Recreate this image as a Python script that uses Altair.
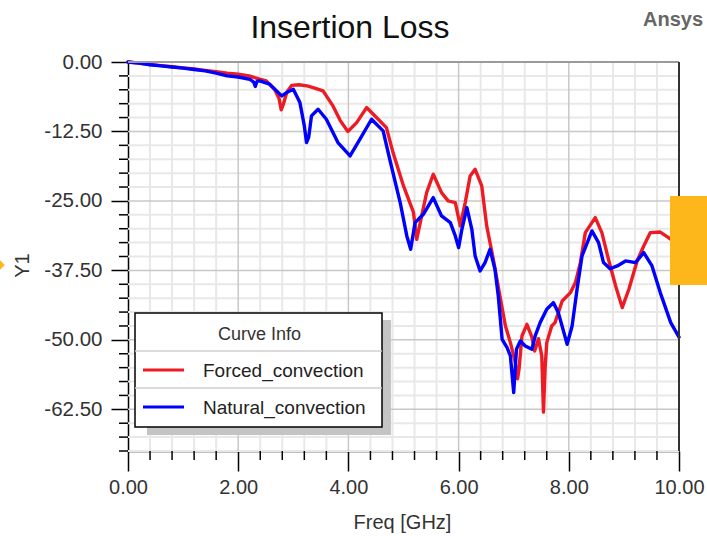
import altair as alt
import pandas as pd

# ---- series data: frequency [GHz] and insertion loss [dB] ----
SERIES = ["Forced_convection", "Natural_convection"]
COLORS = ["#ED1C24", "#0000FF"]

FREQ_FORCED = [0.0, 0.2, 0.4, 0.6, 0.8, 1.0, 1.2, 1.4, 1.6, 1.8, 2.0, 2.2, 2.39, 2.51,
               2.66, 2.74, 2.78, 2.82, 2.88, 2.97, 3.1, 3.25, 3.36, 3.54, 3.72, 3.85,
               3.99, 4.15, 4.33, 4.51, 4.69, 4.81, 5.0, 5.18, 5.24, 5.33, 5.42, 5.54,
               5.69, 5.81, 5.94, 6.03, 6.12, 6.21, 6.3, 6.42, 6.51, 6.63, 6.75, 6.85,
               6.94, 7.03, 7.07, 7.1, 7.15, 7.24, 7.33, 7.38, 7.45, 7.51, 7.54, 7.57,
               7.6, 7.69, 7.75, 7.88, 8.03, 8.12, 8.21, 8.3, 8.48, 8.6, 8.72, 8.85,
               8.97, 9.09, 9.24, 9.36, 9.48, 9.66, 9.81, 10.0]
LOSS_FORCED = [0.0, -0.2, -0.45, -0.65, -0.85, -1.05, -1.25, -1.5, -1.75, -2.0, -2.2, -2.5,
               -3.1, -3.4, -4.9, -6.5, -8.6, -7.6, -5.5, -4.2, -4.1, -4.3, -4.6, -5.2,
               -7.9, -10.5, -12.5, -10.9, -8.2, -10.0, -11.8, -16.3, -22.3, -27.0, -31.9,
               -27.7, -23.5, -20.2, -23.5, -25.0, -25.3, -29.5, -25.3, -20.5, -19.3,
               -22.3, -29.5, -35.5, -42.1, -47.5, -50.5, -54.1, -57.0, -55.0, -49.3,
               -47.2, -49.5, -52.0, -49.8, -52.9, -63.0, -55.0, -50.5, -47.5, -46.9,
               -43.0, -41.5, -39.7, -36.1, -30.7, -28.0, -30.7, -35.5, -40.3, -44.2,
               -40.9, -35.8, -33.1, -30.7, -30.6, -31.6, -33.0]

FREQ_NATURAL = [0.0, 0.2, 0.4, 0.6, 0.8, 1.0, 1.2, 1.4, 1.6, 1.8, 2.0, 2.21, 2.28, 2.31,
                2.34, 2.39, 2.57, 2.79, 2.88, 3.0, 3.12, 3.2, 3.24, 3.28, 3.33, 3.45,
                3.6, 3.81, 4.03, 4.21, 4.42, 4.63, 4.75, 4.94, 5.06, 5.13, 5.21, 5.36,
                5.54, 5.69, 5.85, 5.94, 6.0, 6.06, 6.15, 6.24, 6.3, 6.39, 6.48, 6.57,
                6.66, 6.72, 6.79, 6.88, 6.94, 7.0, 7.05, 7.12, 7.21, 7.33, 7.39, 7.48,
                7.6, 7.72, 7.81, 7.97, 8.06, 8.15, 8.24, 8.42, 8.54, 8.63, 8.75, 8.88,
                9.03, 9.21, 9.36, 9.51, 9.66, 9.85, 10.0]
LOSS_NATURAL = [0.0, -0.2, -0.5, -0.7, -0.9, -1.1, -1.35, -1.6, -2.0, -2.5, -2.7, -3.1,
                -3.6, -4.4, -3.5, -3.4, -4.0, -6.1, -5.5, -4.9, -7.3, -11.5, -14.5,
                -13.5, -9.7, -8.5, -10.3, -14.5, -16.9, -13.9, -10.3, -12.4, -17.5,
                -25.3, -31.3, -33.7, -28.9, -27.4, -24.4, -27.7, -28.9, -31.3, -33.4,
                -30.1, -26.2, -30.1, -34.9, -37.6, -36.1, -33.7, -37.3, -42.1, -49.9,
                -51.4, -52.9, -59.5, -51.7, -50.2, -51.1, -51.7, -49.3, -46.9, -44.5,
                -43.3, -45.1, -50.8, -47.5, -40.9, -34.9, -30.4, -32.5, -36.1, -37.2,
                -36.7, -35.8, -36.1, -34.3, -36.7, -41.5, -46.9, -49.5]

# ---- axis ticks ----
X_MAJOR = [0, 2, 4, 6, 8, 10]
Y_MAJOR = [0, -12.5, -25, -37.5, -50, -62.5]
X_MINOR = [round(i * 0.4, 2) for i in range(1, 25) if i % 5 != 0]
Y_MINOR = [-2.5 * i for i in range(1, 29) if i % 5 != 0]

W, H = 551, 389
FONT = "Liberation Sans"

xs = alt.Scale(domain=[0, 10], nice=False, zero=False)
ys = alt.Scale(domain=[-70, 0], nice=False, zero=False)

forced = pd.DataFrame({"freq": FREQ_FORCED, "loss": LOSS_FORCED, "series": SERIES[0]})
natural = pd.DataFrame({"freq": FREQ_NATURAL, "loss": LOSS_NATURAL, "series": SERIES[1]})

# plain hyphen-minus in tick labels
HYPHEN_LABEL = "replace(format(datum.value, '.2f'), '\u2212', '-')"

x_axis = alt.Axis(values=X_MAJOR, labelExpr=HYPHEN_LABEL, grid=False, labelFlush=False,
                  labelOverlap=False, tickSize=20, tickWidth=1.5, tickColor="black",
                  domainColor="black", domainWidth=1.5, labelFont=FONT, labelFontSize=20,
                  labelColor="#333", labelPadding=6, title="Freq [GHz]", titleFont=FONT,
                  titleFontSize=20, titleFontWeight="normal", titleColor="#333",
                  titleX=274, titleY=71, titleBaseline="middle")
y_axis = alt.Axis(values=Y_MAJOR, labelExpr=HYPHEN_LABEL, grid=False, labelOverlap=False,
                  tickSize=17, tickWidth=1.5, tickColor="black", domainColor="black",
                  domainWidth=1.5, labelFont=FONT, labelFontSize=20.5, labelColor="#333",
                  labelPadding=9, title="Y1", titleFont=FONT, titleFontSize=20,
                  titleFontWeight="normal", titleColor="#333", titleX=-106, titleY=203,
                  titleAlign="center", titleBaseline="middle")


def xq(field):
    return alt.X(f"{field}:Q", scale=xs, axis=x_axis)


def yq(field):
    return alt.Y(f"{field}:Q", scale=ys, axis=y_axis)


# ---- grid ----
grid_x_minor = alt.Chart(pd.DataFrame({"gx": X_MINOR})).mark_rule(
    color="#e8e8e8", strokeWidth=2).encode(x=xq("gx"))
grid_y_minor = alt.Chart(pd.DataFrame({"gy": Y_MINOR})).mark_rule(
    color="#e8e8e8", strokeWidth=2).encode(y=yq("gy"))
grid_x_major = alt.Chart(pd.DataFrame({"gx": X_MAJOR[1:-1]})).mark_rule(
    color="#c8c8c8", strokeWidth=1.5).encode(x=xq("gx"))
grid_y_major = alt.Chart(pd.DataFrame({"gy": Y_MAJOR[1:]})).mark_rule(
    color="#c8c8c8", strokeWidth=1.5).encode(y=yq("gy"))

# ---- minor ticks outside the axes ----
tick_x_minor = alt.Chart(pd.DataFrame({"mx": X_MINOR})).mark_rule(
    color="black", strokeWidth=1.5).encode(
    x=xq("mx"), y=alt.value(H), y2=alt.value(H + 9))
tick_y_minor = alt.Chart(pd.DataFrame({"my": Y_MINOR})).mark_rule(
    color="black", strokeWidth=1.5).encode(
    y=yq("my"), x=alt.value(0), x2=alt.value(-9))

# ---- curves ----
line_style = dict(strokeWidth=3.4, strokeJoin="round", strokeCap="round")
line_forced = alt.Chart(forced).mark_line(color=COLORS[0], **line_style).encode(
    x=xq("freq"), y=yq("loss"))
line_natural = alt.Chart(natural).mark_line(color=COLORS[1], **line_style).encode(
    x=xq("freq"), y=yq("loss"))

# ---- plot frame (top and right) ----
frame_top = alt.Chart().mark_rule(color="#9a9a9a", strokeWidth=2).encode(
    x=alt.value(0), x2=alt.value(W), y=alt.value(0))
frame_right = alt.Chart().mark_rule(color="#333333", strokeWidth=2).encode(
    x=alt.value(W), y=alt.value(0), y2=alt.value(H))

# ---- "Curve Info" legend box ----
lg_x0, lg_x1, lg_y0, lg_y1 = 7, 254, 251, 365
legend_shadow = alt.Chart().mark_rect(fill="#c4c4c4").encode(
    x=alt.value(lg_x0 + 12), x2=alt.value(lg_x1 + 9),
    y=alt.value(lg_y0 + 7), y2=alt.value(lg_y1 + 8))
legend_box = alt.Chart().mark_rect(fill="white", stroke="black", strokeWidth=1.5).encode(
    x=alt.value(lg_x0), x2=alt.value(lg_x1), y=alt.value(lg_y0), y2=alt.value(lg_y1))
legend_title = alt.Chart().mark_text(
    text="Curve Info", font=FONT, fontSize=18, color="#333",
    align="center", baseline="middle").encode(
    x=alt.value((lg_x0 + lg_x1) / 2 + 1), y=alt.value(lg_y0 + 22))
legend_layers = [legend_shadow, legend_box, legend_title]
for sep_y in [lg_y0 + 38, lg_y0 + 75]:
    legend_layers.append(alt.Chart().mark_rule(color="#cfcfcf", strokeWidth=1.5).encode(
        x=alt.value(lg_x0), x2=alt.value(lg_x1), y=alt.value(sep_y)))
for i, (name, col) in enumerate(zip(SERIES, COLORS)):
    row_y = lg_y0 + 57 + 37 * i
    legend_layers.append(alt.Chart().mark_rule(color=col, strokeWidth=3).encode(
        x=alt.value(15), x2=alt.value(56), y=alt.value(row_y)))
    legend_layers.append(alt.Chart().mark_text(
        text=name, font=FONT, fontSize=19, color="#222",
        align="left", baseline="middle").encode(
        x=alt.value(75), y=alt.value(row_y + 1)))

# ---- titles and UI markers ----
title = alt.Chart().mark_text(
    text="Insertion Loss", font=FONT, fontSize=32, color="#111",
    align="center", baseline="middle").encode(x=alt.value(222), y=alt.value(-34))
brand = alt.Chart().mark_text(
    text="Ansys", font=FONT, fontSize=20, fontWeight="bold", color="#666",
    align="center", baseline="middle").encode(x=alt.value(545), y=alt.value(-42))
handle = alt.Chart().mark_rect(color="#FDB71A").encode(
    x=alt.value(542), x2=alt.value(580), y=alt.value(134), y2=alt.value(223))
marker = alt.Chart().mark_point(shape="diamond", filled=True, color="#FDB71A",
                                size=90, opacity=1).encode(
    x=alt.value(-128), y=alt.value(203))

chart = alt.layer(
    grid_x_minor, grid_y_minor, grid_x_major, grid_y_major,
    line_forced, line_natural,
    tick_x_minor, tick_y_minor, frame_top, frame_right,
    *legend_layers,
    handle, marker, title, brand,
).properties(
    width=W, height=H,
    autosize=alt.AutoSizeParams(type="none"),
    padding={"left": 128, "top": 62, "right": 28, "bottom": 85},
    background="white",
).configure_view(stroke=None)

chart.save("out.html", embed_options={"renderer": "svg", "actions": False})
